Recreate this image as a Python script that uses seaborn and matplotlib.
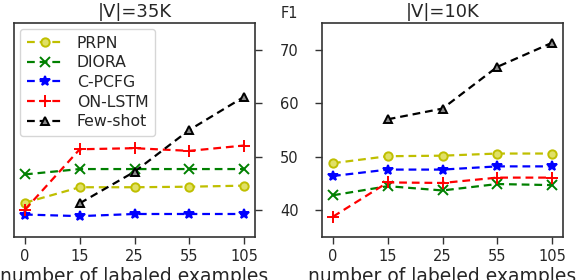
import pandas as pd
import matplotlib
matplotlib.use("Agg")
import matplotlib.pyplot as plt
import seaborn as sns

# data
examples = ["0", "15", "25", "55", "105"]
models = ["PRPN", "DIORA", "C-PCFG", "ON-LSTM", "Few-shot"]

f1_35k = {
    "PRPN": [41.4, 44.3, 44.3, 44.4, 44.6],
    "DIORA": [46.7, 47.7, 47.7, 47.7, 47.7],
    "C-PCFG": [39.2, 38.9, 39.3, 39.3, 39.3],
    "ON-LSTM": [40.1, 51.4, 51.6, 51.1, 52.1],
    "Few-shot": [None, 41.3, 47.2, 55.0, 61.2],
}
f1_10k = {
    "PRPN": [48.8, 50.1, 50.2, 50.6, 50.6],
    "DIORA": [42.8, 44.5, 43.7, 44.9, 44.7],
    "C-PCFG": [46.4, 47.6, 47.6, 48.2, 48.2],
    "ON-LSTM": [38.8, 45.2, 45.1, 46.1, 46.1],
    "Few-shot": [None, 57.0, 59.0, 66.8, 71.3],
}

colors = {"PRPN": "y", "DIORA": "g", "C-PCFG": "b", "ON-LSTM": "r", "Few-shot": "k"}
markers = {"PRPN": "o", "DIORA": "x", "C-PCFG": "*", "ON-LSTM": "+", "Few-shot": "^"}
faces = {"PRPN": (0.88, 0.88, 0.4), "DIORA": "g", "C-PCFG": "b", "ON-LSTM": "r", "Few-shot": (0.55, 0.55, 0.55)}
sizes = {"PRPN": 6, "DIORA": 6.5, "C-PCFG": 7.5, "ON-LSTM": 8, "Few-shot": 6}


def to_long(table):
    rows = []
    for m in models:
        for i, v in enumerate(table[m]):
            if v is not None:
                rows.append({"model": m, "pos": i, "F1": v})
    return pd.DataFrame(rows)


sns.set_style("ticks")
plt.rcParams["font.family"] = ["DejaVu Sans"]
plt.rcParams["axes.edgecolor"] = ".2"
plt.rcParams["axes.linewidth"] = 1.2

fig = plt.figure(figsize=(5.78, 2.8), dpi=100)
ax1 = fig.add_axes([14 / 578, 43 / 280, 241 / 578, 214 / 280])
ax2 = fig.add_axes([322 / 578, 43 / 280, 241 / 578, 214 / 280])

for ax, table, title, xlabel in [
    (ax1, f1_35k, "|V|=35K", "number of labaled examples"),
    (ax2, f1_10k, "|V|=10K", "number of labeled examples"),
]:
    df = to_long(table)
    for m in models:
        sub = df[df["model"] == m]
        sns.lineplot(data=sub, x="pos", y="F1", ax=ax, color=colors[m],
                     marker=markers[m], markersize=sizes[m], mfc=faces[m],
                     mec=colors[m], mew=1.4, linestyle=(0, (3.5, 2.2)), linewidth=1.6,
                     errorbar=None, label=m, legend=(ax is ax1))
    ax.set_xlim(-0.2, len(examples) - 0.8)
    ax.set_ylim(35, 75)
    ax.set_xticks(range(len(examples)))
    ax.set_xticklabels(examples)
    ax.set_yticks([40, 50, 60, 70])
    ax.set_title(title, fontsize=13, pad=4)
    ax.set_xlabel(xlabel, fontsize=13.5, labelpad=2)
    ax.set_ylabel("")
    ax.tick_params(axis="x", labelsize=10.5, length=5, width=1, color=".2")
    ax.tick_params(axis="y", labelsize=10.5, length=5, width=1, color=".2")

# y tick labels sit between the two panels
ax1.yaxis.tick_right()
ax1.tick_params(axis="y", pad=13)
ax2.tick_params(axis="y", labelleft=False)

ax1.legend(loc="upper left", fontsize=11.3, labelspacing=0.3, handlelength=2.3,
           handletextpad=0.9, borderaxespad=0.4, frameon=True)

fig.text(289 / 578, 1 - 13 / 280, "F1", ha="center", va="center", fontsize=10.5)

fig.savefig("out.png", dpi=100)
